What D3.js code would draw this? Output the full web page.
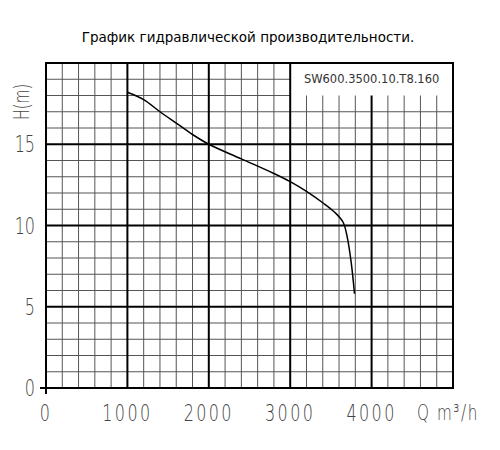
<!DOCTYPE html>
<html>
<head>
<meta charset="utf-8">
<script src="https://cdn.jsdelivr.net/npm/d3@7"></script>
<style>
  body { margin: 0; background: #fff; }
  svg text { font-family: 'DejaVu Sans', sans-serif; }
</style>
</head>
<body>
<svg width="500" height="450"></svg>
<script>
// curve
let flow = [1000, 1200, 1400, 1600, 1800, 2000, 2400, 2800, 3000, 3200, 3400, 3550, 3650, 3700, 3750, 3790]
let head = [18.2, 17.75, 17.0, 16.3, 15.6, 15.0, 14.1, 13.2, 12.7, 12.1, 11.4, 10.8, 10.2, 9.3, 7.7, 5.8]
let xTicks = [0, 1000, 2000, 3000, 4000]
let yTicks = [0, 5, 10, 15]
let title = 'График гидравлической производительности.'
let model = 'SW600.3500.10.T8.160'

let margin = { top: 63, bottom: 62, left: 46, right: 47 }
let width = 500
let height = 450

let xScale = d3.scaleLinear()
  .domain([0, 5000])
  .range([margin.left, width - margin.right])
let yScale = d3.scaleLinear()
  .domain([0, 20])
  .range([height - margin.bottom, margin.top])

let svg = d3.select('svg')

svg.append('text')
  .attr('x', 248).attr('y', 42)
  .attr('text-anchor', 'middle')
  .attr('font-size', 13.5)
  .text(title)

// minor grid every 200 m3/h and 1 m
let grid = svg.append('g')
grid.selectAll('.vx')
  .data(d3.range(200, 5000, 200).filter(d => d % 1000 != 0))
  .enter().append('line')
  .attr('x1', d => xScale(d)).attr('x2', d => xScale(d))
  .attr('y1', d => yScale(d > 3000 ? 18 : 20)).attr('y2', yScale(0))
  .attr('stroke', '#555').attr('stroke-width', 1)
grid.selectAll('.hy')
  .data(d3.range(1, 20).filter(d => d % 5 != 0))
  .enter().append('line')
  .attr('x1', xScale(0))
  .attr('x2', d => d >= 18 ? xScale(3000) : xScale(5000))
  .attr('y1', d => yScale(d)).attr('y2', d => yScale(d))
  .attr('stroke', '#555').attr('stroke-width', 1)

// major grid
grid.selectAll('.mx')
  .data([1000, 2000, 3000, 4000])
  .enter().append('line')
  .attr('x1', d => xScale(d)).attr('x2', d => xScale(d))
  .attr('y1', d => yScale(d > 3000 ? 18 : 20)).attr('y2', yScale(0))
  .attr('stroke', '#000').attr('stroke-width', 2)
grid.selectAll('.my')
  .data([5, 10, 15])
  .enter().append('line')
  .attr('x1', xScale(0)).attr('x2', xScale(5000))
  .attr('y1', d => yScale(d)).attr('y2', d => yScale(d))
  .attr('stroke', '#000').attr('stroke-width', 2)

// frame
svg.append('rect')
  .attr('x', xScale(0)).attr('y', yScale(20))
  .attr('width', xScale(5000) - xScale(0))
  .attr('height', yScale(0) - yScale(20))
  .attr('fill', 'none').attr('stroke', '#000').attr('stroke-width', 2)
// axis overhang
svg.append('line')
  .attr('x1', xScale(0) - 6).attr('x2', xScale(0))
  .attr('y1', yScale(0)).attr('y2', yScale(0))
  .attr('stroke', '#000').attr('stroke-width', 2)
svg.append('line')
  .attr('x1', xScale(0)).attr('x2', xScale(0))
  .attr('y1', yScale(0)).attr('y2', yScale(0) + 6)
  .attr('stroke', '#000').attr('stroke-width', 2)

svg.append('text')
  .attr('x', xScale(4000)).attr('y', yScale(19) + 4)
  .attr('text-anchor', 'middle')
  .attr('font-family', 'Liberation Sans, Arial, sans-serif')
  .attr('font-size', 11.5).attr('fill', '#333')
  .text(model)

let line = d3.line()
  .x((d, i) => xScale(flow[i]))
  .y(d => yScale(d))
  .curve(d3.curveCatmullRom)
svg.append('path')
  .attr('d', line(head))
  .attr('fill', 'none')
  .attr('stroke', '#000')
  .attr('stroke-width', 1.5)

// tick labels, thin tall digits
svg.selectAll('.xl')
  .data(xTicks)
  .enter().append('text')
  .attr('transform', d => `translate(${xScale(d)},${yScale(0) + 33}) scale(0.8,1.15)`)
  .attr('text-anchor', 'middle')
  .attr('font-size', 20).attr('font-weight', 200).attr('fill', '#444')
  .attr('letter-spacing', 3)
  .text(d => d)
svg.selectAll('.yl')
  .data(yTicks)
  .enter().append('text')
  .attr('transform', d => `translate(35,${yScale(d) + 8}) scale(0.8,1.15)`)
  .attr('text-anchor', 'end')
  .attr('font-size', 20).attr('font-weight', 200).attr('fill', '#444')
  .text(d => d)

svg.append('text')
  .attr('transform', 'translate(448,420) scale(0.8,1.15)')
  .attr('text-anchor', 'middle')
  .attr('font-size', 19).attr('font-weight', 200).attr('fill', '#444')
  .attr('letter-spacing', 2)
  .text('Q m³/h')
svg.append('text')
  .attr('transform', 'translate(29,102) rotate(-90) scale(0.8,1.15)')
  .attr('text-anchor', 'middle')
  .attr('font-size', 18).attr('font-weight', 200).attr('fill', '#444')
  .text('H(m)')
</script>
</body>
</html>
